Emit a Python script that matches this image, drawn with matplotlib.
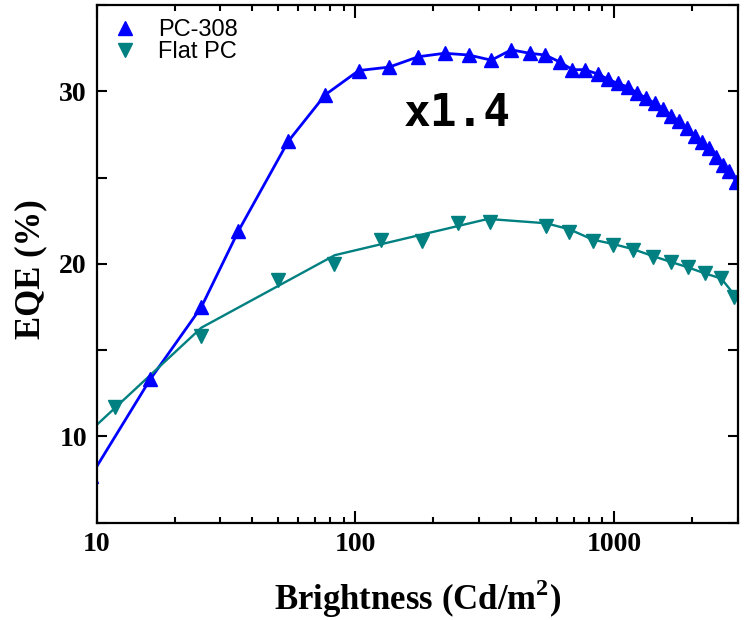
import numpy as np
import matplotlib
matplotlib.use('Agg')
import matplotlib.pyplot as plt
from matplotlib.ticker import LogLocator, NullFormatter, FixedLocator

# PC-308 (photonic crystal) EQE vs brightness
pc_x = [9.5, 16.1, 25.4, 35.3, 55.0, 76.5, 103, 135, 175, 221, 274, 335, 400, 471,
        541, 615, 689, 768, 864, 945, 1032, 1129, 1223, 1330, 1432, 1543, 1661,
        1775, 1906, 2042, 2186, 2319, 2477, 2627, 2787, 2958]
pc_y = [7.7, 13.3, 17.5, 21.9, 27.1, 29.8, 31.2, 31.4, 32.0, 32.2, 32.1, 31.8, 32.4, 32.2,
        32.1, 31.7, 31.25, 31.25, 31.0, 30.7, 30.45, 30.25, 29.9, 29.6, 29.3, 29.0, 28.55,
        28.3, 27.85, 27.4, 27.05, 26.7, 26.2, 25.7, 25.4, 24.75]

# flat PC reference device
flat_x = [11.8, 25.4, 50.2, 82.6, 126, 180, 249, 332, 545, 671, 826, 988, 1181,
          1410, 1661, 1923, 2233, 2590, 2911]
flat_y = [11.7, 15.8, 19.05, 20.0, 21.4, 21.3, 22.35, 22.45, 22.2, 21.85, 21.3, 21.1, 20.8,
          20.4, 20.1, 19.8, 19.45, 19.15, 18.1]

# fitted curve through the flat PC data
flat_fit_x = [9.5, 25.4, 83.2, 325, 545, 671, 826, 988, 1181, 1410, 1661, 1923, 2233, 2590, 2911]
flat_fit_y = [10.35, 16.3, 20.5, 22.6, 22.35, 22.0, 21.4, 21.15, 20.85, 20.45, 20.1, 19.8,
              19.45, 19.15, 18.2]

x_ticks = [10, 100, 1000]
y_ticks = [10, 20, 30]

blue = '#0000FF'
teal = '#008080'

plt.rcParams['font.family'] = 'Liberation Serif'
plt.rcParams['font.weight'] = 'bold'
plt.rcParams['axes.labelweight'] = 'bold'
plt.rcParams['mathtext.fontset'] = 'custom'
plt.rcParams['mathtext.bf'] = 'Liberation Serif:bold'
plt.rcParams['mathtext.rm'] = 'Liberation Serif:bold'

fig = plt.figure(figsize=(7.49, 6.2), dpi=100)
ax = fig.add_axes([0.129, 0.157, 0.856, 0.835])

ax.plot(pc_x, pc_y, color=blue, lw=2.0)
ax.plot(flat_fit_x, flat_fit_y, color=teal, lw=1.7)
ax.plot(pc_x, pc_y, ls='none', marker='^', ms=10, color=blue, label='PC-308')
ax.plot(flat_x, flat_y, ls='none', marker='v', ms=9.5, color=teal, label='Flat PC')

ax.set_xscale('log')
ax.set_xlim(10, 3000)
ax.set_ylim(5, 35)

ax.xaxis.set_major_locator(FixedLocator(x_ticks))
ax.xaxis.set_minor_locator(LogLocator(base=10, subs=np.arange(2, 10)))
ax.xaxis.set_minor_formatter(NullFormatter())
ax.set_xticklabels([str(t) for t in x_ticks])
ax.yaxis.set_major_locator(FixedLocator(y_ticks))
ax.yaxis.set_minor_locator(FixedLocator([5, 15, 25, 35]))
ax.set_yticklabels([str(t) for t in y_ticks])

ax.tick_params(which='both', direction='in', top=True, right=True, width=1.5, labelsize=20)
ax.tick_params(axis='x', which='major', length=9, pad=7)
ax.tick_params(axis='x', which='minor', length=4.5)
ax.tick_params(axis='y', which='both', length=7, pad=7)
for sp in ax.spines.values():
    sp.set_linewidth(1.6)

ax.set_xlabel(r'Brightness (Cd/m$^\mathbf{2}$)', fontsize=25, fontweight='bold', va='center')
ax.xaxis.set_label_coords(0.5, -0.147)
ax.set_ylabel('EQE (%)', fontsize=25, fontweight='bold', va='center')
ax.yaxis.set_label_coords(-0.103, 0.49)

ax.text(0.563, 0.791, 'x1.4', transform=ax.transAxes, ha='center', va='center',
        family='DejaVu Sans Mono', weight='bold', fontsize=32)

ax.legend(loc='upper left', frameon=False,
          prop={'family': 'Liberation Sans', 'weight': 'normal', 'size': 17},
          handletextpad=0.8, labelspacing=0.0, borderaxespad=0.3, handlelength=1.2,
          borderpad=0.3)

fig.savefig('out.png', dpi=100)
